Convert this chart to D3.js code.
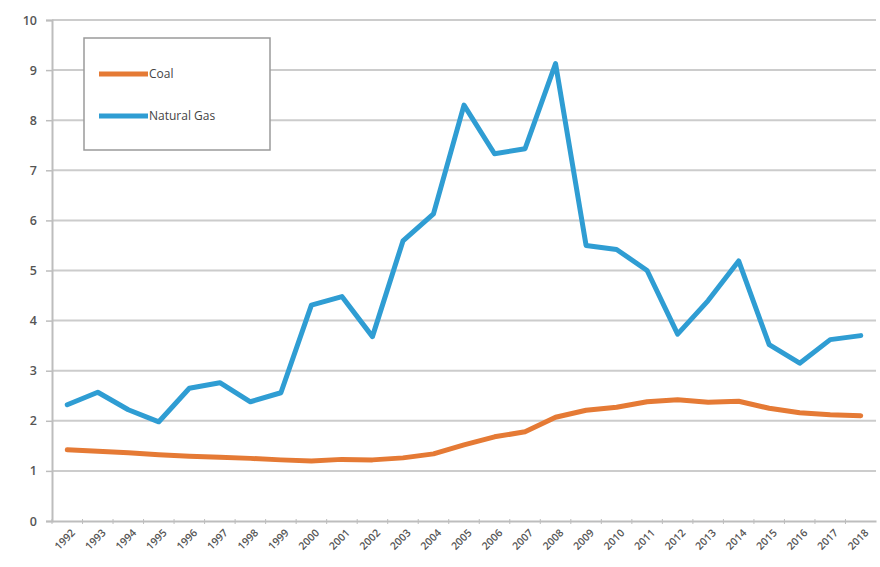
<!DOCTYPE html>
<html>
<head>
<meta charset="utf-8">
<script src="https://cdn.jsdelivr.net/npm/d3@7"></script>
<style>
  body { margin: 0; background: #fff; }
  text { font-family: "Open Sans", "Liberation Sans", sans-serif; }
</style>
</head>
<body>
<script>
    var years = ["1992","1993","1994","1995","1996","1997","1998","1999","2000","2001","2002","2003","2004",
                 "2005","2006","2007","2008","2009","2010","2011","2012","2013","2014","2015","2016","2017","2018"];
    var coal = [1.42,1.39,1.36,1.32,1.29,1.27,1.25,1.22,1.20,1.23,1.22,1.26,1.34,
                1.52,1.68,1.78,2.07,2.21,2.27,2.38,2.42,2.37,2.39,2.25,2.16,2.12,2.10];
    var gas = [2.32,2.57,2.22,1.98,2.65,2.76,2.38,2.56,4.31,4.48,3.68,5.59,6.13,
               8.30,7.33,7.43,9.13,5.50,5.42,5.00,3.73,4.40,5.19,3.52,3.15,3.62,3.70];
    var yTicks = [0,1,2,3,4,5,6,7,8,9,10];
    var seriesNames = ["Coal", "Natural Gas"];
    var seriesColors = ["#e57a35", "#2f9dd3"];

    var width = 880, height = 567;
    var margin = {top: 20, right: 4, bottom: 46, left: 52};

    var svg = d3.select("body")
        .append("svg").attr("width", width).attr("height", height)

    var x = d3.scaleBand().domain(years)
        .range([margin.left, width - margin.right]);
    var y = d3.scaleLinear().domain([0, 10])
        .range([height - margin.bottom, margin.top]);

    // horizontal gridlines
    svg.append("g").selectAll("line").data(yTicks.slice(1)).join("line")
        .attr("x1", margin.left).attr("x2", width - margin.right)
        .attr("y1", function(d){ return y(d); }).attr("y2", function(d){ return y(d); })
        .style("stroke", "#cccccc").style("stroke-width", 2)

    // y axis
    var yAxis = svg.append("g").attr("transform", "translate(" + margin.left + ",0)")
        .call(d3.axisLeft(y).tickValues(yTicks).tickSize(6).tickPadding(9))
    yAxis.select(".domain").style("stroke", "#bdbdbd").style("stroke-width", 2)
    yAxis.selectAll(".tick line").style("stroke", "#bdbdbd").style("stroke-width", 1.5)
    yAxis.selectAll("text").style("font-size", "12.5px").style("font-weight", "600").style("fill", "#555")

    // x axis
    var xAxis = svg.append("g").attr("transform", "translate(0," + y(0) + ")")
        .call(d3.axisBottom(x).tickSize(0).tickPadding(0))
    xAxis.select(".domain").style("stroke", "#bdbdbd").style("stroke-width", 2)
    xAxis.selectAll(".tick text")
        .attr("text-anchor", "end")
        .attr("transform", "translate(6,10) rotate(-45)")
        .attr("dy", "0.35em")
        .style("font-size", "10.5px").style("font-weight", "600").style("fill", "#555")
    // category boundary ticks
    svg.append("g").selectAll("line").data(years).join("line")
        .attr("x1", function(d){ return x(d); }).attr("x2", function(d){ return x(d); })
        .attr("y1", y(0) - 2).attr("y2", y(0) + 3)
        .style("stroke", "#bdbdbd")

    var line = d3.line()
        .x(function(d, i){ return x(years[i]) + x.bandwidth() / 2; })
        .y(function(d){ return y(d); })

    svg.append("path").datum(coal).attr("d", line)
        .style("fill", "none").style("stroke", seriesColors[0])
        .style("stroke-width", 5).style("stroke-linejoin", "round").style("stroke-linecap", "round")
    svg.append("path").datum(gas).attr("d", line)
        .style("fill", "none").style("stroke", seriesColors[1])
        .style("stroke-width", 5).style("stroke-linejoin", "round").style("stroke-linecap", "round")

    // legend
    var legend = svg.append("g")
    legend.append("rect")
        .attr("x", 84).attr("y", 38).attr("width", 186).attr("height", 112)
        .style("fill", "#fff").style("stroke", "#9a9a9a").style("stroke-width", 1.5)
    seriesNames.forEach(function(name, i){
        var ly = 74 + i * 42;
        legend.append("line")
            .attr("x1", 99).attr("x2", 148).attr("y1", ly).attr("y2", ly)
            .style("stroke", seriesColors[i]).style("stroke-width", 5)
        legend.append("text")
            .attr("x", 149).attr("y", ly).attr("dy", "0.35em")
            .style("font-size", "12px").style("fill", "#444")
            .text(name)
    })
</script>
</body>
</html>
